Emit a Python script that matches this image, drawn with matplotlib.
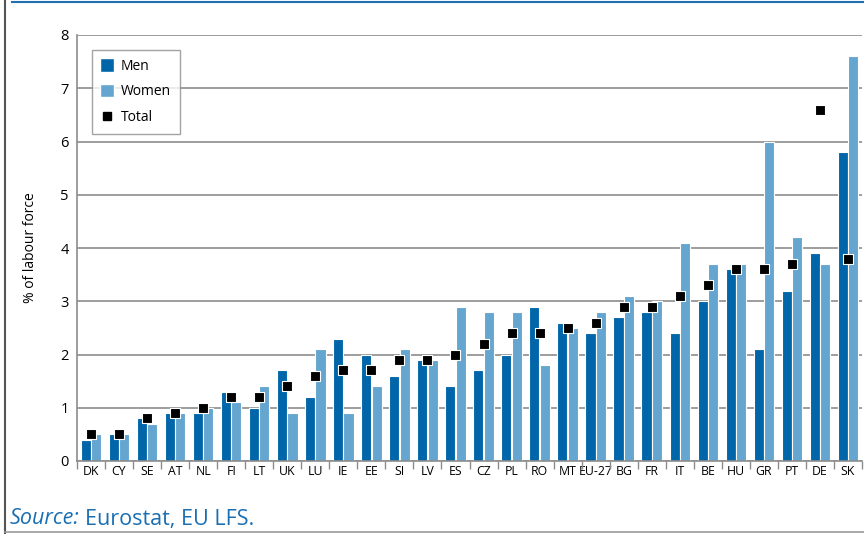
import matplotlib
matplotlib.use("Agg")
import matplotlib.pyplot as plt
import numpy as np
from matplotlib.lines import Line2D
from matplotlib.patches import Patch
from matplotlib import font_manager

countries = ["DK", "CY", "SE", "AT", "NL", "FI", "LT", "UK", "LU", "IE", "EE", "SI", "LV", "ES",
             "CZ", "PL", "RO", "MT", "EU-27", "BG", "FR", "IT", "BE", "HU", "GR", "PT", "DE", "SK"]
men = [0.4, 0.5, 0.8, 0.9, 0.9, 1.3, 1.0, 1.7, 1.2, 2.3, 2.0, 1.6, 1.9, 1.4,
       1.7, 2.0, 2.9, 2.6, 2.4, 2.7, 2.8, 2.4, 3.0, 3.6, 2.1, 3.2, 3.9, 5.8]
women = [0.5, 0.5, 0.7, 0.9, 1.0, 1.1, 1.4, 0.9, 2.1, 0.9, 1.4, 2.1, 1.9, 2.9,
         2.8, 2.8, 1.8, 2.5, 2.8, 3.1, 3.0, 4.1, 3.7, 3.7, 6.0, 4.2, 3.7, 7.6]
total = [0.5, 0.5, 0.8, 0.9, 1.0, 1.2, 1.2, 1.4, 1.6, 1.7, 1.7, 1.9, 1.9, 2.0,
         2.2, 2.4, 2.4, 2.5, 2.6, 2.9, 2.9, 3.1, 3.3, 3.6, 3.6, 3.7, 6.6, 3.8]
yticks = [0, 1, 2, 3, 4, 5, 6, 7, 8]

MEN_C = "#0066a9"
WOMEN_C = "#64a6d0"
GRID_C = "#8c8c8c"

plt.rcParams['font.family'] = ['Open Sans', 'DejaVu Sans']

installed = {f.name for f in font_manager.fontManager.ttflist}
narrow = "Liberation Sans Narrow" if "Liberation Sans Narrow" in installed else None

fig = plt.figure(figsize=(8.64, 5.34), dpi=100)
ax = fig.add_axes([77/864, 1-461/534, (862-77)/864, (461-35)/534])

x = np.arange(len(countries))
w = 0.36
ax.bar(x - w/2 - 0.005, men, width=w, color=MEN_C, edgecolor="white", linewidth=0.8, zorder=2)
ax.bar(x + w/2 + 0.005, women, width=w, color=WOMEN_C, edgecolor="white", linewidth=0.8, zorder=2)
ax.scatter(x, total, marker="s", s=60, color="black", edgecolors="white", linewidths=0.8, zorder=3)

ax.set_xlim(-0.5, len(countries) - 0.5)
ax.set_ylim(0, 8)
ax.set_yticks(yticks)
ax.set_yticklabels([str(t) for t in yticks], fontsize=10.5)
ax.yaxis.grid(True, color=GRID_C, linewidth=1.2, zorder=0)
ax.set_axisbelow(True)
ax.tick_params(axis="y", length=0, pad=6)

ax.set_xticks(x)
if narrow:
    ax.set_xticklabels(countries, fontsize=10, family=[narrow, 'Open Sans'])
else:
    ax.set_xticklabels(countries, fontsize=8.8)
ax.tick_params(axis="x", length=0, pad=3)
ax.set_xticks(np.arange(-0.5, len(countries), 1.0), minor=True)
ax.tick_params(axis="x", which="minor", length=6, color=GRID_C, width=1)

for s in ["top", "right"]:
    ax.spines[s].set_visible(False)
ax.spines["left"].set_color(GRID_C)
ax.spines["bottom"].set_color(GRID_C)
ax.spines["left"].set_linewidth(1.2)
ax.spines["bottom"].set_linewidth(1.2)

ax.set_ylabel("% of labour force", fontsize=10)
ax.yaxis.set_label_coords(-0.05, 0.5)

handles = [Patch(facecolor=MEN_C, edgecolor="white", label="Men"),
           Patch(facecolor=WOMEN_C, edgecolor="white", label="Women"),
           Line2D([], [], marker="s", linestyle="none", color="black", markersize=5.5, label="Total")]
leg = ax.legend(handles=handles, loc="upper left", bbox_to_anchor=(0.019, 0.965), fontsize=10,
                frameon=True, fancybox=False, edgecolor=GRID_C, handlelength=1.0, handleheight=1.1,
                handletextpad=0.5, labelspacing=0.75, borderpad=0.6, borderaxespad=0)
leg.get_frame().set_linewidth(1.0)

fig.add_artist(Line2D([12/864, 1], [1-1.5/534, 1-1.5/534], color="#1f6fb2", linewidth=1.5))
fig.add_artist(Line2D([5/864, 5/864], [0, 1], color="#555555", linewidth=1.5))
fig.add_artist(Line2D([5/864, 1], [1-532/534, 1-532/534], color="#999999", linewidth=1.2))

src_c = "#1a6fb3"
t1 = fig.text(10/864, 1-519/534, "Source:", fontsize=15.5, style="italic", color=src_c, va="center")
fig.canvas.draw()
bb = t1.get_window_extent()
fig.text((bb.x1 + 5)/864, 1-519/534, "Eurostat, EU LFS.", fontsize=15.5, color=src_c, va="center")

fig.savefig("out.png", dpi=100)
